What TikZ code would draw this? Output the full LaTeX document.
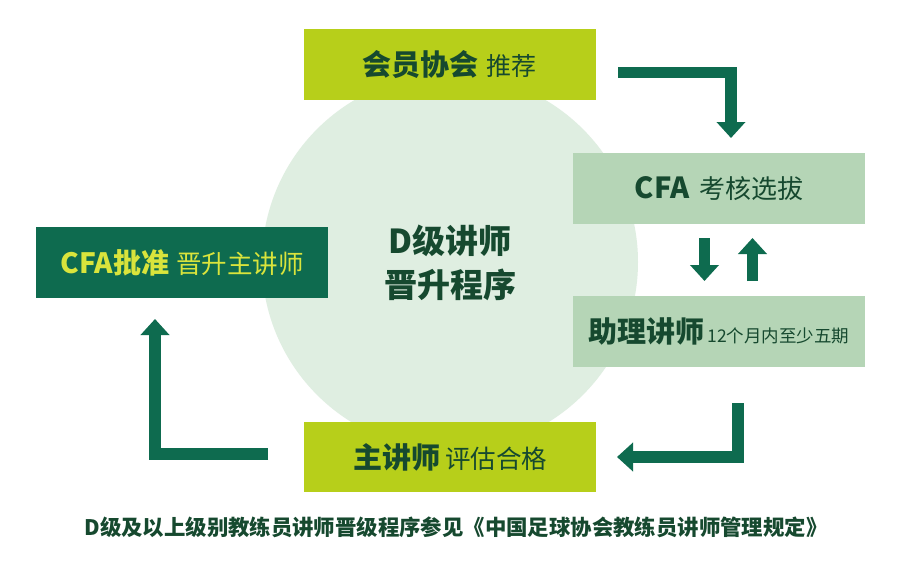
\documentclass[tikz,border=0pt]{standalone}
\usepackage{fontspec}
\setmainfont{Noto Sans CJK SC}
\usetikzlibrary{arrows.meta}
\definecolor{lime}{HTML}{B7CF1A}
\definecolor{lightg}{HTML}{B5D5B6}
\definecolor{circg}{HTML}{DFEEE1}
\definecolor{darkg}{HTML}{0E6B4F}
\definecolor{txtg}{HTML}{16492F}
\definecolor{yel}{HTML}{D9E43C}
\newcommand{\fsz}[1]{\fontsize{#1}{#1}\selectfont}
\begin{document}
\begin{tikzpicture}[x=1pt,y=-1pt,
  box/.style={minimum width=292pt,minimum height=71pt,inner sep=0pt,text=txtg,anchor=center},
  flow/.style={draw=darkg,line width=11.5pt,line cap=butt,line join=miter,
    -{Triangle[width=28pt,length=16pt]}}]
\useasboundingbox (0,0) rectangle (914,562);
\fill[white] (0,0) rectangle (914,562);
% circle
\fill[circg] (450,262) circle[radius=188];
\node[txtg,align=center,font=\bfseries\fsz{33}] (title) at (450,263)
  {D级讲师\\[11pt]晋升程序};
% boxes
\node[box,fill=lime] (top) at (449.5,64.5)
  {{\bfseries\fsz{29}会员协会}\hspace{8pt}{\fsz{25}推荐}};
\node[box,fill=lightg] (cfa) at (719,188.5)
  {{\bfseries\fsz{29}CFA}\hspace{10pt}{\fsz{26}考核选拔}};
\node[box,fill=lightg] (asst) at (719,331.5)
  {{\bfseries\fsz{29}助理讲师}\hspace{3pt}{\fsz{17.5}12个月内至少五期}};
\node[box,fill=darkg,text=yel] (appr) at (182,262.5)
  {{\bfseries\fsz{28}CFA批准}\hspace{7pt}{\fsz{25.5}晋升主讲师}};
\node[box,fill=lime,minimum height=70pt] (main) at (450,457)
  {{\bfseries\fsz{29}主讲师}\hspace{5pt}{\fsz{25.5}评估合格}};
% arrows
\coordinate (a1s) at (618,72.5);
\coordinate (a1c) at (731,72.5);
\coordinate (a1e) at (731,138);
\draw[flow] (a1s) -- (a1c) -- (a1e);
\coordinate (a2s) at (704.5,238);
\coordinate (a2e) at (704.5,281);
\draw[flow] (a2s) -- (a2e);
\coordinate (a3s) at (752.5,281);
\coordinate (a3e) at (752.5,238);
\draw[flow] (a3s) -- (a3e);
\coordinate (a4s) at (738,403);
\coordinate (a4c) at (738,457);
\coordinate (a4e) at (617,457);
\draw[flow] (a4s) -- (a4c) -- (a4e);
\coordinate (a5s) at (268,454);
\coordinate (a5c) at (155,454);
\coordinate (a5e) at (155,319);
\draw[flow] (a5s) -- (a5c) -- (a5e);
% caption
\node[txtg,font=\bfseries\fsz{21.4}] (cap) at (456,527)
  {D级及以上级别教练员讲师晋级程序参见《中国足球协会教练员讲师管理规定》};
\end{tikzpicture}
\end{document}
